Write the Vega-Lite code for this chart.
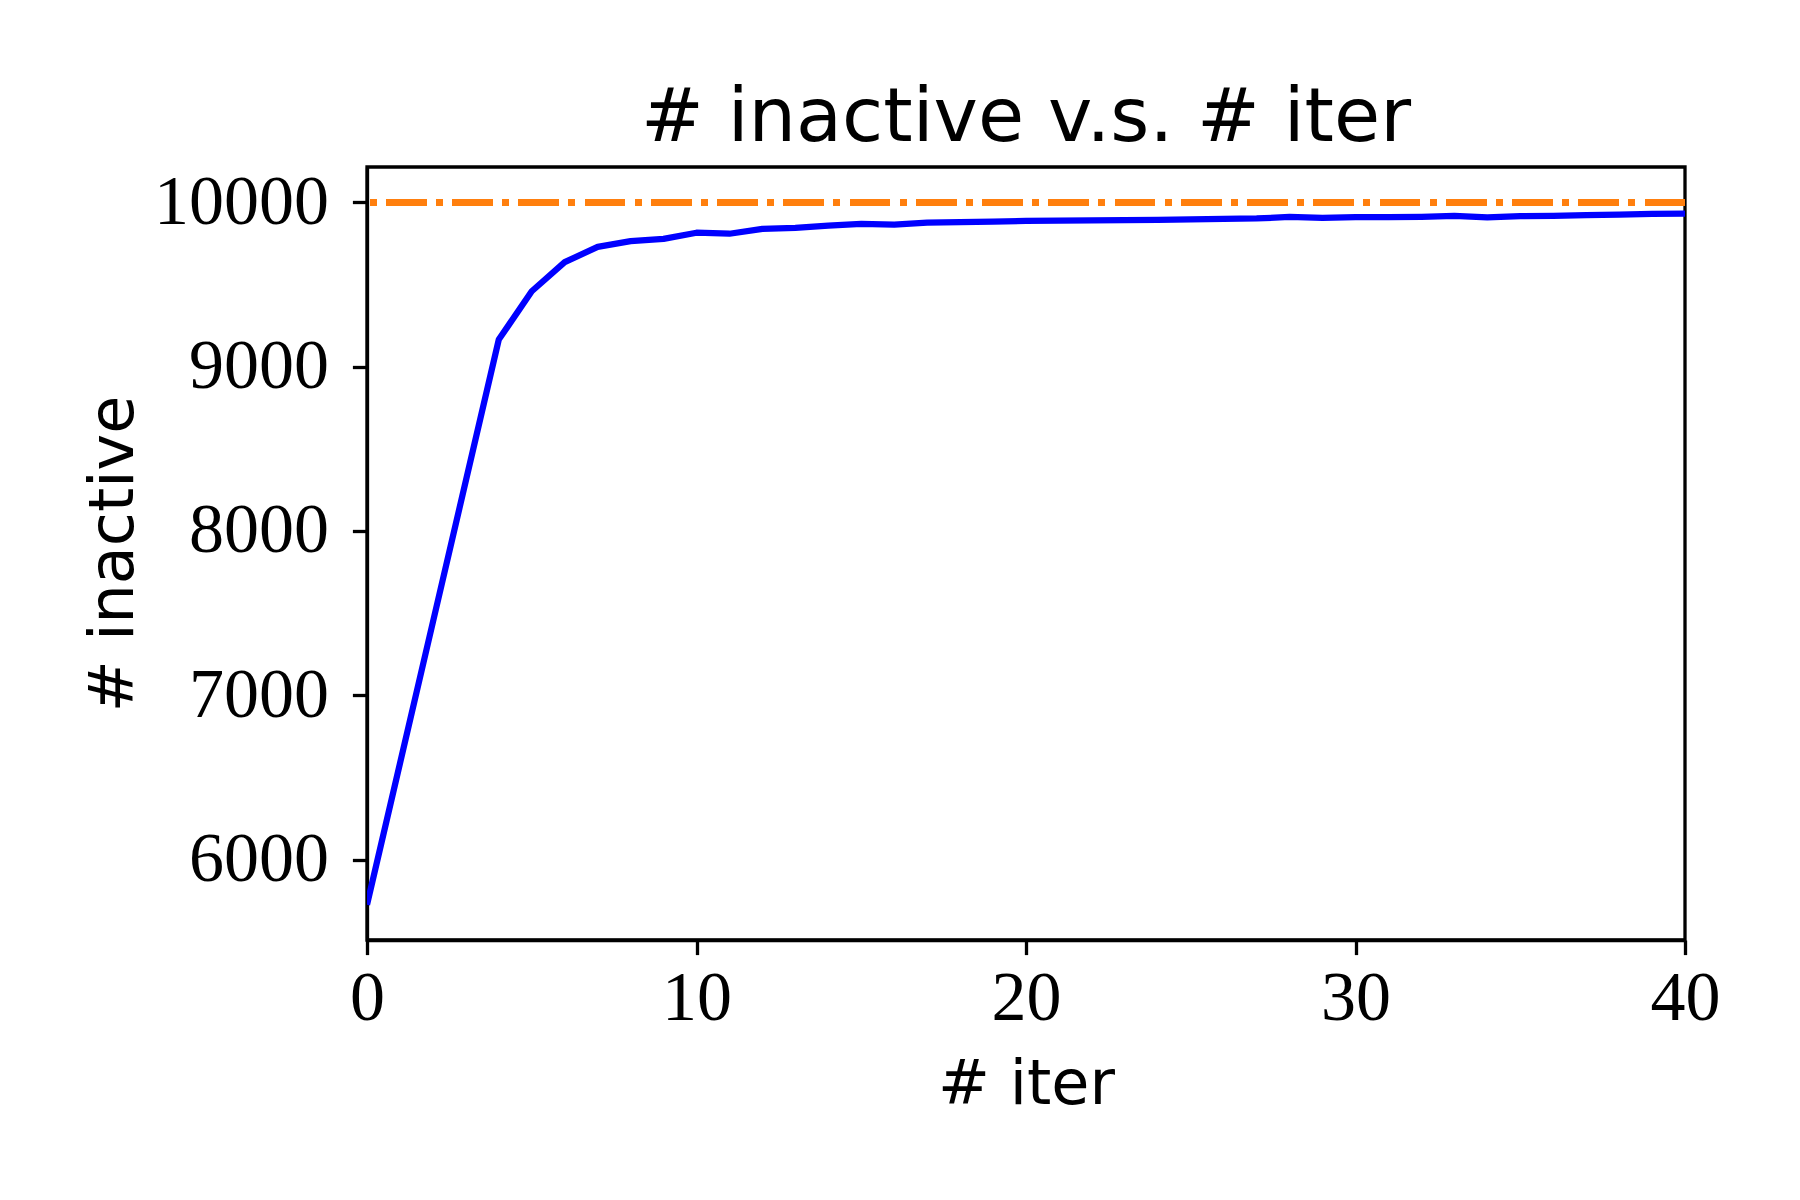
{
  "$schema": "https://vega.github.io/schema/vega-lite/v6.json",
  "width": 1318,
  "height": 773,
  "autosize": {"type": "none"},
  "padding": {"left": 367, "top": 167, "right": 115, "bottom": 260},
  "background": "white",
  "title": {
    "text": "# inactive v.s. # iter",
    "font": "DejaVu Sans",
    "fontSize": 75,
    "fontWeight": "normal",
    "color": "black",
    "baseline": "alphabetic",
    "anchor": "middle",
    "frame": "group",
    "offset": 24,
    "dy": 73
  },
  "config": {
    "view": {"stroke": "black", "strokeWidth": 3.3},
    "axis": {
      "grid": false,
      "domainColor": "black",
      "domainWidth": 3.3,
      "tickColor": "black",
      "tickWidth": 3.3,
      "tickSize": 14.6,
      "labelColor": "black",
      "labelFont": "Liberation Serif",
      "labelFontSize": 70,
      "labelFlush": false,
      "labelOverlap": false,
      "titleColor": "black",
      "titleFont": "DejaVu Sans",
      "titleFontSize": 62,
      "titleFontWeight": "normal"
    }
  },
  "data": {
    "values": [
      {"iter": 0, "inactive": 5725},
      {"iter": 1, "inactive": 6585},
      {"iter": 2, "inactive": 7445},
      {"iter": 3, "inactive": 8305},
      {"iter": 4, "inactive": 9164},
      {"iter": 5, "inactive": 9458},
      {"iter": 6, "inactive": 9635},
      {"iter": 7, "inactive": 9728},
      {"iter": 8, "inactive": 9763},
      {"iter": 9, "inactive": 9777},
      {"iter": 10, "inactive": 9814},
      {"iter": 11, "inactive": 9808},
      {"iter": 12, "inactive": 9838},
      {"iter": 13, "inactive": 9844},
      {"iter": 14, "inactive": 9858},
      {"iter": 15, "inactive": 9868},
      {"iter": 16, "inactive": 9864},
      {"iter": 17, "inactive": 9876},
      {"iter": 18, "inactive": 9878},
      {"iter": 19, "inactive": 9882},
      {"iter": 20, "inactive": 9886},
      {"iter": 21, "inactive": 9888},
      {"iter": 22, "inactive": 9889},
      {"iter": 23, "inactive": 9891},
      {"iter": 24, "inactive": 9893},
      {"iter": 25, "inactive": 9895},
      {"iter": 26, "inactive": 9898},
      {"iter": 27, "inactive": 9901},
      {"iter": 28, "inactive": 9910},
      {"iter": 29, "inactive": 9905},
      {"iter": 30, "inactive": 9909},
      {"iter": 31, "inactive": 9909},
      {"iter": 32, "inactive": 9911},
      {"iter": 33, "inactive": 9917},
      {"iter": 34, "inactive": 9907},
      {"iter": 35, "inactive": 9915},
      {"iter": 36, "inactive": 9917},
      {"iter": 37, "inactive": 9921},
      {"iter": 38, "inactive": 9925},
      {"iter": 39, "inactive": 9929},
      {"iter": 40, "inactive": 9930}
    ]
  },
  "layer": [
    {
      "mark": {"type": "line", "color": "#0000ff", "strokeWidth": 6.25, "strokeJoin": "round", "clip": true},
      "encoding": {
        "x": {
          "field": "iter",
          "type": "quantitative",
          "scale": {"domain": [0, 40], "nice": false, "zero": false},
          "axis": {
            "title": "# iter",
            "values": [0, 10, 20, 30, 40],
            "format": "d",
            "labelBaseline": "alphabetic",
            "labelPadding": 65,
            "titleBaseline": "alphabetic",
            "titleAlign": "center",
            "titleX": 659,
            "titleY": 163
          }
        },
        "y": {
          "field": "inactive",
          "type": "quantitative",
          "scale": {"domain": [5511, 10214], "nice": false, "zero": false},
          "axis": {
            "title": "# inactive",
            "values": [6000, 7000, 8000, 9000, 10000],
            "format": "d",
            "labelBaseline": "middle",
            "labelPadding": 24,
            "titleAngle": -90,
            "titleBaseline": "alphabetic",
            "titleAlign": "center",
            "titleX": -235,
            "titleY": 386.5
          }
        }
      }
    },
    {
      "mark": {"type": "rule", "color": "#ff7f0e", "strokeWidth": 6.25, "strokeDash": [40, 10, 6.25, 10]},
      "encoding": {"y": {"datum": 10000}}
    }
  ]
}
